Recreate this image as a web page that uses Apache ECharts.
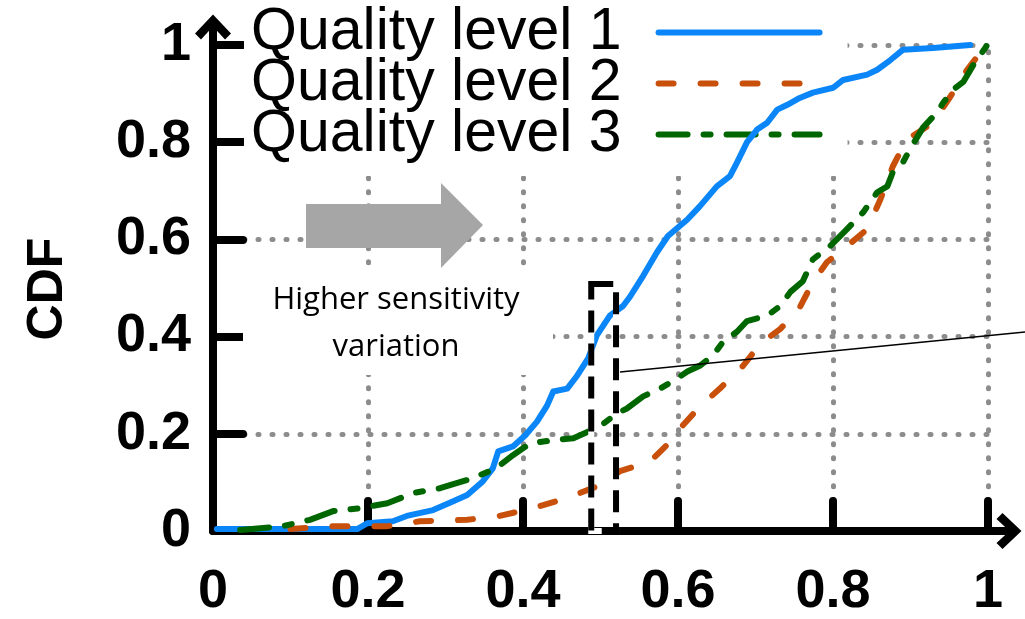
<!DOCTYPE html>
<html>
<head>
<meta charset="utf-8">
<script src="https://cdn.jsdelivr.net/npm/echarts@6/dist/echarts.min.js"></script>
<style>
    html, body { margin: 0; padding: 0; background: #fff; }
    #chart { width: 1025px; height: 619px; }
</style>
</head>
<body>
<div id="chart"></div>
<script type="text/javascript">
    // series names (legend)
    var seriesNames = ['Quality level 1', 'Quality level 2', 'Quality level 3'];

    // CDF points [x, cdf]
    var level1 = [[0.005,0.004],[0.186,0.004],[0.199,0.016],[0.232,0.02],[0.25,0.031],[0.284,0.043],[0.31,0.061],
        [0.328,0.074],[0.348,0.102],[0.361,0.129],[0.368,0.164],[0.387,0.174],[0.403,0.197],[0.418,0.225],
        [0.431,0.258],[0.439,0.287],[0.457,0.293],[0.47,0.32],[0.484,0.355],[0.495,0.402],[0.512,0.443],
        [0.529,0.463],[0.538,0.482],[0.555,0.525],[0.573,0.574],[0.587,0.607],[0.612,0.641],[0.628,0.668],
        [0.65,0.709],[0.667,0.73],[0.676,0.758],[0.689,0.8],[0.702,0.826],[0.715,0.84],[0.728,0.867],
        [0.741,0.877],[0.757,0.891],[0.774,0.902],[0.8,0.912],[0.813,0.928],[0.844,0.939],[0.857,0.949],
        [0.874,0.969],[0.89,0.99],[0.929,0.994],[0.977,1.0]];
    var level2 = [[0.1,0.004],[0.155,0.01],[0.225,0.01],[0.267,0.02],[0.328,0.023],[0.37,0.031],[0.413,0.047],
        [0.457,0.068],[0.499,0.094],[0.525,0.123],[0.564,0.143],[0.59,0.184],[0.606,0.217],[0.628,0.256],
        [0.654,0.293],[0.684,0.34],[0.706,0.385],[0.732,0.416],[0.754,0.451],[0.774,0.512],[0.792,0.553],
        [0.818,0.586],[0.844,0.621],[0.861,0.682],[0.877,0.75],[0.895,0.805],[0.929,0.84],[0.951,0.893],
        [0.973,0.949],[0.99,0.984],[1.0,1.0]];
    var level3 = [[0.035,0.002],[0.09,0.01],[0.125,0.023],[0.155,0.041],[0.19,0.047],[0.225,0.057],[0.258,0.078],
        [0.293,0.088],[0.328,0.105],[0.357,0.123],[0.37,0.135],[0.387,0.156],[0.409,0.18],[0.435,0.186],
        [0.465,0.191],[0.499,0.215],[0.521,0.242],[0.534,0.252],[0.555,0.277],[0.577,0.293],[0.599,0.314],
        [0.612,0.328],[0.628,0.34],[0.645,0.361],[0.658,0.389],[0.676,0.41],[0.689,0.432],[0.715,0.443],
        [0.732,0.463],[0.745,0.492],[0.761,0.514],[0.774,0.559],[0.796,0.586],[0.818,0.621],[0.839,0.656],
        [0.857,0.697],[0.87,0.709],[0.877,0.738],[0.89,0.758],[0.899,0.785],[0.916,0.83],[0.934,0.861],
        [0.942,0.881],[0.955,0.908],[0.968,0.924],[0.981,0.959],[0.999,1.0]];

    // axis ticks / labels
    var tickValues = [0.2, 0.4, 0.6, 0.8, 1];
    var labelValues = [0, 0.2, 0.4, 0.6, 0.8, 1];
    // highlighted region (dashed box): [x0, y0], [x1, y1]
    var boxCorners = [[0.488, 0.508], [0.52, 0]];

    var colors = ['#0a86f8', '#c8500a', '#006600'];
    var xMax = 1.027, yMax = 1.037;   // axes run past 1 to leave room for the arrows
    var arrowHead = 'path://M18,0 L36,19 L30,25 L18,12 L6,25 L0,19 Z';

    function gridLines() {
        var out = [];
        tickValues.forEach(function (v) {
            out.push([{coord: [0.04, v]}, {coord: [1, v]}]);
            out.push([{coord: [v, 0.062]}, {coord: [v, 1]}]);
        });
        return out;
    }

    function axis(margin, ext) {
        return {
            type: 'value',
            min: 0,
            max: ext,
            axisLine: {
                show: true,
                symbol: ['none', arrowHead],
                symbolSize: [36, 26],
                lineStyle: {color: '#000', width: 8, cap: 'round'}
            },
            axisTick: {
                show: true, inside: true, length: 30,
                customValues: tickValues,
                lineStyle: {color: '#000', width: 8, cap: 'round'}
            },
            axisLabel: {
                customValues: labelValues,
                margin: margin,
                color: '#000',
                fontFamily: 'Liberation Sans',
                fontWeight: 'bold',
                fontSize: 54
            },
            splitLine: {show: false}
        };
    }

    var xAxis = axis(34, xMax);
    var yAxis = axis(22, yMax);
    yAxis.name = 'CDF';
    yAxis.nameLocation = 'middle';
    yAxis.nameGap = 140;
    yAxis.nameRotate = 90;
    yAxis.nameTextStyle = {color: '#000', fontFamily: 'Liberation Sans', fontWeight: 'bold', fontSize: 50, padding: [0, 20, 0, 0]};

    var lineTypes = ['solid', [15, 27], [29, 16, 7, 16]];
    var dataSets = [level1, level2, level3];
    var series = dataSets.map(function (d, i) {
        return {
            name: seriesNames[i],
            type: 'line',
            data: d,
            symbol: 'none',
            z: 2,
            lineStyle: {color: colors[i], width: 6, type: lineTypes[i], cap: 'round', join: 'round'},
            itemStyle: {color: colors[i]}
        };
    });
    // dotted grid
    series.push({
        type: 'line', data: [], z: 0, silent: true,
        markLine: {
            silent: true, z: 0, symbol: ['none', 'none'], label: {show: false}, animation: false,
            lineStyle: {color: '#8c8c8c', width: 5, type: [1, 13], cap: 'round'},
            data: gridLines()
        }
    });
    // dashed box (white under black dashes)
    series.push({
        type: 'line', data: [], z: 3, silent: true,
        markArea: {
            silent: true, z: 3,
            itemStyle: {color: 'rgba(0,0,0,0)', borderColor: '#fff', borderWidth: 6},
            data: [[{coord: boxCorners[0]}, {coord: boxCorners[1]}]]
        }
    });
    series.push({
        type: 'line', data: [], z: 4, silent: true,
        markArea: {
            silent: true, z: 4,
            itemStyle: {color: 'rgba(0,0,0,0)', borderColor: '#000', borderWidth: 6, borderType: [22, 11]},
            data: [[{coord: boxCorners[0]}, {coord: boxCorners[1]}]]
        }
    });

    var chart = echarts.init(document.getElementById('chart'));
    chart.setOption({
        animation: false,
        backgroundColor: '#fff',
        grid: {left: 213, right: 16, top: 27, bottom: 86, containLabel: false},
        legend: {
            data: seriesNames,
            orient: 'vertical',
            left: 244, top: 0,
            align: 'right',
            itemWidth: 161, itemHeight: 14, itemGap: -8,
            padding: [3, 25, 12, 7],
            backgroundColor: '#fff',
            selectedMode: false,
            z: 1,
            itemStyle: {color: 'rgba(0,0,0,0)', opacity: 0, borderWidth: 0},
            lineStyle: {width: 6, cap: 'round'},
            textStyle: {color: '#000', fontFamily: 'Liberation Sans', fontSize: 59, lineHeight: 50, padding: [0, 32, 0, 0]}
        },
        xAxis: xAxis,
        yAxis: yAxis,
        series: series,
        graphic: [
            {
                type: 'polygon', z: 1, silent: true,
                shape: {points: [[306, 204], [441, 204], [441, 183], [483, 225], [441, 268], [441, 248], [306, 248]]},
                style: {fill: '#a6a6a6'}
            },
            {
                type: 'rect', z: 1, silent: true,
                shape: {x: 243, y: 270, width: 310, height: 105},
                style: {fill: '#fff'}
            },
            {
                type: 'text', z: 1, silent: true,
                x: 396, y: 324,
                style: {
                    text: 'Higher sensitivity\nvariation',
                    align: 'center', verticalAlign: 'middle',
                    font: '31px "Open Sans"', lineHeight: 47, fill: '#000'
                }
            },
            {
                type: 'line', z: 5, silent: true,
                shape: {x1: 620, y1: 372, x2: 1025, y2: 332},
                style: {stroke: '#000', lineWidth: 1.5}
            }
        ]
    });
</script>
</body>
</html>
